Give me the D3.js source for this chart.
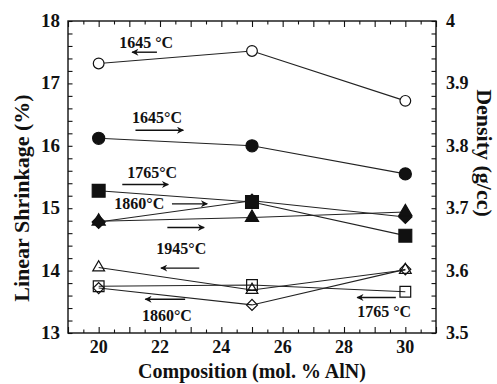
<!DOCTYPE html>
<html>
<head>
<meta charset="utf-8">
<script src="https://cdn.jsdelivr.net/npm/d3@7"></script>
<style>
  body { margin: 0; background: #fff; }
</style>
</head>
<body>
<div id="chart"></div>
<script>
// composition (mol. % AlN)
const composition = [20, 25, 30];

// linear shrinkage (%), open symbols, left axis
const shrink1645 = [17.32, 17.52, 16.72];
const shrink1765 = [13.75, 13.77, 13.66];
const shrink1860 = [13.72, 13.45, 14.02];
const shrink1945 = [14.05, 13.69, 14.01];

// density (g/cc), filled symbols, right axis
const density1645 = [3.812, 3.800, 3.755];
const density1765 = [3.728, 3.710, 3.656];
const density1860 = [3.678, 3.712, 3.686];
const density1945 = [3.679, 3.685, 3.694];

const xTickLabels = [20, 22, 24, 26, 28, 30];
const shrinkTickLabels = [13, 14, 15, 16, 17, 18];
const densityTickLabels = [3.5, 3.6, 3.7, 3.8, 3.9, 4];

var FONT = "Liberation Serif";
var width = 497, height = 384;
var margin = { top: 21, right: 61, bottom: 51, left: 68 };
var w = width - margin.left - margin.right,
    h = height - margin.top - margin.bottom;

var svg = d3.select("#chart").append("svg")
    .attr("width", width)
    .attr("height", height);

svg.append("defs").append("marker")
    .attr("id", "head")
    .attr("viewBox", "0 0 10 10")
    .attr("refX", 9).attr("refY", 5)
    .attr("markerWidth", 9).attr("markerHeight", 7)
    .attr("markerUnits", "userSpaceOnUse")
    .attr("orient", "auto")
    .append("path")
    .attr("d", "M0,0L10,5L0,10L3,5Z")
    .attr("fill", "#111");

var g = svg.append("g")
    .attr("transform", "translate(" + margin.left + "," + margin.top + ")");

var x = d3.scaleLinear().domain([19, 31]).range([0, w]);
var yS = d3.scaleLinear().domain([13, 18]).range([h, 0]);
var yD = d3.scaleLinear().domain([3.5, 4]).range([h, 0]);

// ticks (inward on all sides)
function tickAxis(axis, tickVals, size) {
    return axis.tickValues(tickVals).tickSize(-size).tickFormat("");
}
var xMinor = d3.range(19, 31.01, 0.5).filter(v => v % 1 !== 0);
var xMajor = d3.range(19, 31.01, 1);
var yMinor = d3.range(13, 18.01, 0.2).map(v => +v.toFixed(1));

g.append("g").attr("transform", "translate(0," + h + ")").call(tickAxis(d3.axisBottom(x), xMajor, 6));
g.append("g").attr("transform", "translate(0," + h + ")").call(tickAxis(d3.axisBottom(x), xMinor, 3.5));
g.append("g").call(tickAxis(d3.axisTop(x), xMajor, 6));
g.append("g").call(tickAxis(d3.axisTop(x), xMinor, 3.5));
g.append("g").call(tickAxis(d3.axisLeft(yS), yMinor, 4.5));
g.append("g").attr("transform", "translate(" + w + ",0)")
    .call(tickAxis(d3.axisRight(yD), yMinor.map(v => 3.5 + (v - 13) / 10), 4.5));
g.selectAll(".domain").remove();
g.selectAll(".tick line").attr("stroke", "#111").attr("stroke-width", 1.1);

g.append("rect")
    .attr("width", w).attr("height", h)
    .attr("fill", "none").attr("stroke", "#111").attr("stroke-width", 1.4);

// text helper
function label(sel, size) {
    return sel.attr("font-family", FONT).attr("font-weight", "bold")
        .attr("font-size", size).attr("fill", "#111");
}

// tick labels
label(g.selectAll(".xlab").data(xTickLabels).enter().append("text"), 18)
    .attr("x", d => x(d)).attr("y", h + 20)
    .attr("text-anchor", "middle")
    .text(d => d);
label(g.selectAll(".slab").data(shrinkTickLabels).enter().append("text"), 19)
    .attr("x", -8).attr("y", d => yS(d) + 6)
    .attr("text-anchor", "end")
    .text(d => d);
label(g.selectAll(".dlab").data(densityTickLabels).enter().append("text"), 18)
    .attr("x", w + 10).attr("y", d => yD(d) + 6)
    .attr("text-anchor", "start")
    .text(d => d);

// axis titles
label(svg.append("text"), 20)
    .attr("transform", "translate(" + (margin.left + w / 2) + ",378)")
    .attr("text-anchor", "middle")
    .text("Composition (mol. % AlN)");
label(svg.append("text"), 22)
    .attr("transform", "translate(29,198) rotate(-90)")
    .attr("text-anchor", "middle")
    .text("Linear Shrinkage (%)");
label(svg.append("text"), 22)
    .attr("transform", "translate(477,153) rotate(90)")
    .attr("text-anchor", "middle")
    .text("Density (g/cc)");

// series, drawn so that squares sit on top of diamonds
var series = [
    { values: density1860, y: yD, shape: d3.symbolSquare, rot: 45, size: 85, filled: true },
    { values: density1945, y: yD, shape: d3.symbolTriangle, rot: 0, size: 75, filled: true },
    { values: density1645, y: yD, shape: d3.symbolCircle, rot: 0, size: 115, filled: true },
    { values: density1765, y: yD, shape: d3.symbolSquare, rot: 0, size: 165, filled: true },
    { values: shrink1860, y: yS, shape: d3.symbolSquare, rot: 45, size: 60, filled: false },
    { values: shrink1945, y: yS, shape: d3.symbolTriangle, rot: 0, size: 60, filled: false },
    { values: shrink1645, y: yS, shape: d3.symbolCircle, rot: 0, size: 90, filled: false },
    { values: shrink1765, y: yS, shape: d3.symbolSquare, rot: 0, size: 115, filled: false }
];

series.forEach(s => {
    var pts = composition.map((c, i) => [c, s.values[i]]);
    g.append("path")
        .datum(pts)
        .attr("fill", "none")
        .attr("stroke", "#222")
        .attr("stroke-width", 1.1)
        .attr("d", d3.line().x(d => x(d[0])).y(d => s.y(d[1])));
});

series.forEach(s => {
    var pts = composition.map((c, i) => [c, s.values[i]]);
    g.selectAll(null).data(pts).enter().append("path")
        .attr("transform", d => "translate(" + x(d[0]) + "," + s.y(d[1]) + ") rotate(" + s.rot + ")")
        .attr("d", d3.symbol().type(s.shape).size(s.size))
        .attr("fill", s.filled ? "#111" : (s.shape === d3.symbolCircle ? "#fff" : "none"))
        .attr("stroke", "#111")
        .attr("stroke-width", 1.2);
});

// annotations (data coords: composition, shrinkage)
const labelText = ["1645 °C", "1645°C", "1765°C", "1860°C", "1945°C", "1860°C", "1765 °C"];
const labelX = [20.67, 21.09, 20.93, 20.51, 21.88, 21.41, 28.43];
const labelY = [17.57, 16.36, 15.48, 14.98, 14.27, 13.20, 13.26];
const arrowFrom = [21.90, 21.20, 20.77, 22.39, 22.24, 23.28, 22.82, 29.69];
const arrowTo = [21.09, 22.76, 22.27, 23.54, 23.44, 22.03, 21.52, 28.43];
const arrowY = [17.50, 16.25, 15.38, 15.07, 14.69, 14.04, 13.54, 13.57];

label(g.selectAll(".ann").data(labelText).enter().append("text"), 16)
    .attr("x", (d, i) => x(labelX[i]))
    .attr("y", (d, i) => yS(labelY[i]))
    .text(d => d);

g.selectAll(".arrow").data(arrowY).enter().append("line")
    .attr("x1", (d, i) => x(arrowFrom[i]))
    .attr("x2", (d, i) => x(arrowTo[i]))
    .attr("y1", d => yS(d))
    .attr("y2", d => yS(d))
    .attr("stroke", "#111")
    .attr("stroke-width", 1.4)
    .attr("marker-end", "url(#head)");
</script>
</body>
</html>
